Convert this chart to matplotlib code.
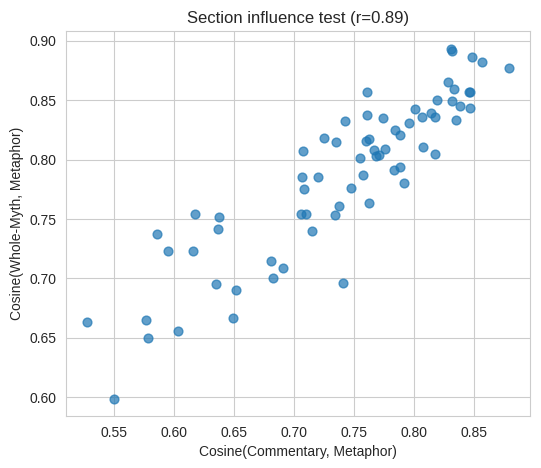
import matplotlib
matplotlib.use("Agg")
import matplotlib.pyplot as plt
import seaborn as sns

sns.set_style("whitegrid")
plt.rcParams['font.family'] = ['Liberation Sans', 'DejaVu Sans']

commentary = [0.5275, 0.5497, 0.5763, 0.5786, 0.603, 0.5855, 0.5947, 0.6155, 0.6172, 0.6372,
              0.6363, 0.6347, 0.6513, 0.6488, 0.6805, 0.6905, 0.6825, 0.708, 0.7058, 0.710,
              0.8305, 0.8313, 0.848, 0.8563, 0.8788, 0.828, 0.833, 0.8458, 0.8467, 0.7605,
              0.8192, 0.8313, 0.8383, 0.8463, 0.8005, 0.8142, 0.8063, 0.8172, 0.835, 0.7605,
              0.7738, 0.7422, 0.7958, 0.7838, 0.7883, 0.7247, 0.7347, 0.7594, 0.7622, 0.7069,
              0.8072, 0.8172, 0.7664, 0.7755, 0.768, 0.7708, 0.7547, 0.783, 0.7883, 0.7575,
              0.7913, 0.7063, 0.7197, 0.7472, 0.7372, 0.7342, 0.7622, 0.7147, 0.7408]
whole_myth = [0.663, 0.599, 0.6647, 0.6498, 0.6555, 0.7378, 0.7227, 0.7235, 0.7546, 0.752,
              0.742, 0.695, 0.690, 0.6664, 0.7143, 0.7092, 0.7008, 0.7756, 0.7546, 0.7546,
              0.8935, 0.8916, 0.8866, 0.8824, 0.8773, 0.8655, 0.8597, 0.8566, 0.8566, 0.8571,
              0.8504, 0.8496, 0.8448, 0.8437, 0.8429, 0.8395, 0.8361, 0.8361, 0.833, 0.8372,
              0.8353, 0.8328, 0.8311, 0.8246, 0.821, 0.8179, 0.8145, 0.816, 0.8176, 0.807,
              0.8109, 0.805, 0.8078, 0.8087, 0.8034, 0.8039, 0.8011, 0.7916, 0.7941, 0.7874,
              0.7807, 0.7851, 0.7851, 0.7759, 0.7608, 0.7538, 0.7639, 0.7403, 0.6958]

title = "Section influence test (r=0.89)"
xlabel = "Cosine(Commentary, Metaphor)"
ylabel = "Cosine(Whole-Myth, Metaphor)"

fig = plt.figure(figsize=(5.41, 4.68), dpi=100)
ax = fig.add_axes([66/541, 1-416/468, (530-66)/541, (416-31)/468])
ax.scatter(commentary, whole_myth, s=40, alpha=0.7, color="#1f77b4")
ax.set_title(title, fontsize=12)
ax.set_xlabel(xlabel, fontsize=10)
ax.set_ylabel(ylabel, fontsize=10)
ax.tick_params(labelsize=10)
fig.savefig("out.png", dpi=100)
